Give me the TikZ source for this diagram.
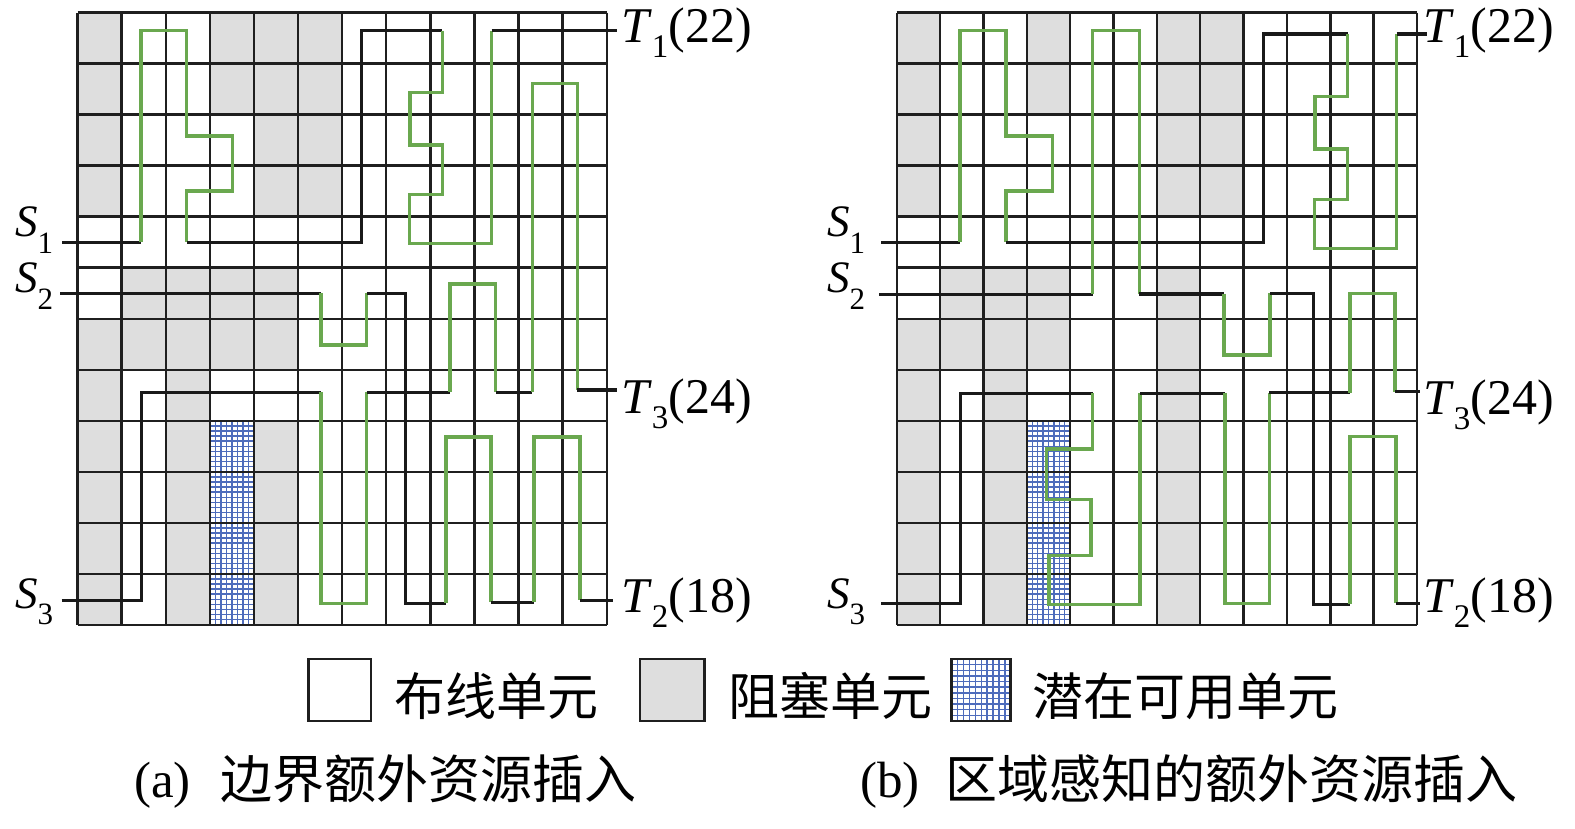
\documentclass[tikz,border=0pt]{standalone}
\usepackage{fontspec}
\setmainfont{Liberation Serif}
\newfontfamily\cjk{Noto Sans CJK SC}
\definecolor{wiregreen}{RGB}{106,168,79}
\definecolor{blockgray}{RGB}{222,222,222}
\definecolor{hatchblue}{RGB}{78,108,188}
\newcommand\mypinS[1]{\textit{S}\raisebox{-0.36em}{\fontsize{31}{31}\selectfont #1}}
\newcommand\mypinT[2]{\textit{T}\raisebox{-0.3em}{\fontsize{33}{33}\selectfont #1}(#2)}
\tikzset{
  gridline/.style={line width=2.4pt, black!88},
  bwire/.style={line width=3.3pt, black!90, line join=miter},
  gwire/.style={line width=3.1pt, wiregreen, line join=miter},
  hatch/.style={line width=1.4pt, hatchblue},
  legbox/.style={line width=2.6pt, black!88},
  slabel/.style={inner sep=0pt, anchor=base west, font=\fontsize{45}{47}\selectfont},
  tlabel/.style={inner sep=0pt, anchor=base west, font=\fontsize{50}{52}\selectfont},
  cjkleg/.style={inner sep=0pt, anchor=base west, font=\cjk\fontsize{51}{58}\selectfont},
  cjkcap/.style={inner sep=0pt, anchor=base west, font=\cjk\fontsize{52}{58}\selectfont},
  captext/.style={inner sep=0pt, anchor=base west, font=\fontsize{51}{56}\selectfont},
}
\begin{document}
\begin{tikzpicture}[x=1pt,y=-1pt]
\useasboundingbox (0,0) rectangle (1575,829);
\fill[white] (0,0) rectangle (1575,829);

% ================= left grid (a) =================
\begin{scope}[shift={(77.5,12.7)},x=44.1pt,y=-51pt]
  \foreach \c/\r in {0/0,3/0,4/0,5/0, 0/1,3/1,4/1,5/1, 0/2,4/2,5/2, 0/3,4/3,5/3,
      1/5,2/5,3/5,4/5, 0/6,1/6,2/6,3/6,4/6, 0/7,2/7,
      0/8,2/8,4/8, 0/9,2/9,4/9, 0/10,2/10,4/10, 0/11,2/11,4/11}
    \fill[blockgray] (\c,\r) rectangle ++(1,1);
  \fill[white] (3,8) rectangle (4,12);
  \foreach \k in {0,...,8} \draw[hatch] ({3+\k/8},8) -- ({3+\k/8},12);
  \foreach \k in {0,...,40} \draw[hatch] (3,{8+\k/10}) -- (4,{8+\k/10});
  \foreach \k in {0,...,12} {
    \draw[gridline] (\k,0) -- (\k,12);
    \draw[gridline] (0,\k) -- (12,\k);
  }
\end{scope}

% pins (a)
\coordinate (aS1) at (62,242.3);   \coordinate (aT1) at (616.7,30.7);
\coordinate (aS2) at (60,293.3);   \coordinate (aT2) at (612.7,600.3);
\coordinate (aS3) at (61.7,600.3); \coordinate (aT3) at (616.7,390);

% net 1 (a)
\draw[bwire] (aS1) -- (141,242.3);
\draw[gwire] (141,242.3) -- (141,30.7) -- (186.7,30.7) -- (186.7,136) -- (232.3,136)
  -- (232.3,191) -- (186.7,191) -- (186.7,242.3);
\draw[bwire] (186.7,242.3) -- (361.7,242.3) -- (361.7,30.7) -- (442.3,30.7);
\draw[gwire] (442.3,30.7) -- (442.3,92.7) -- (410,92.7) -- (410,145) -- (442.3,145)
  -- (442.3,194.3) -- (409.5,194.3) -- (409.5,243.3) -- (491.7,243.3) -- (491.7,30.7);
\draw[bwire] (491.7,30.7) -- (aT1);

% net 2 (a)
\draw[bwire] (aS2) -- (321,293.3);
\draw[gwire] (321,293.3) -- (321,345) -- (366.7,345) -- (366.7,293.3);
\draw[bwire] (366.7,293.3) -- (405.7,293.3) -- (405.7,603.3) -- (446,603.3);
\draw[gwire] (446,603.3) -- (446,437) -- (491,437) -- (491,602.3);
\draw[bwire] (491,602.3) -- (534,602.3);
\draw[gwire] (534,602.3) -- (534,437) -- (580,437) -- (580,600.3);
\draw[bwire] (580,600.3) -- (aT2);

% net 3 (a)
\draw[bwire] (aS3) -- (141.7,600.3) -- (141.7,392.3) -- (321,392.3);
\draw[gwire] (321,392.3) -- (321,603.3) -- (366.7,603.3) -- (366.7,392.3);
\draw[bwire] (366.7,392.3) -- (450,392.3);
\draw[gwire] (450,392.3) -- (450,284) -- (495.7,284) -- (495.7,392.3);
\draw[bwire] (495.7,392.3) -- (532.3,392.3);
\draw[gwire] (532.3,392.3) -- (532.3,83.3) -- (577.3,83.3) -- (577.3,390);
\draw[bwire] (577.3,390) -- (aT3);

% ================= right grid (b) =================
\begin{scope}[shift={(896.7,12.7)},x=43.36pt,y=-51pt]
  \foreach \c/\r in {0/0,3/0,6/0,7/0, 0/1,3/1,6/1,7/1, 0/2,6/2,7/2, 0/3,6/3,7/3,
      1/5,2/5,3/5,6/5, 0/6,1/6,2/6,3/6,6/6, 0/7,2/7,6/7,
      0/8,2/8,6/8, 0/9,2/9,6/9, 0/10,2/10,6/10, 0/11,2/11,6/11}
    \fill[blockgray] (\c,\r) rectangle ++(1,1);
  \fill[white] (3,8) rectangle (4,12);
  \foreach \k in {0,...,8} \draw[hatch] ({3+\k/8},8) -- ({3+\k/8},12);
  \foreach \k in {0,...,40} \draw[hatch] (3,{8+\k/10}) -- (4,{8+\k/10});
  \foreach \k in {0,...,12} {
    \draw[gridline] (\k,0) -- (\k,12);
    \draw[gridline] (0,\k) -- (12,\k);
  }
\end{scope}

% pins (b)
\coordinate (bS1) at (881,242.3);   \coordinate (bT1) at (1426.7,34);
\coordinate (bS2) at (879.3,294.3); \coordinate (bT2) at (1420,603.3);
\coordinate (bS3) at (881,603.3);   \coordinate (bT3) at (1420,391.7);

% net 1 (b)
\draw[bwire] (bS1) -- (960,242.3);
\draw[gwire] (960,242.3) -- (960,30.7) -- (1006,30.7) -- (1006,136) -- (1052.3,136)
  -- (1052.3,191) -- (1006,191) -- (1006,242.3);
\draw[bwire] (1006,242.3) -- (1263.3,242.3) -- (1263.3,34) -- (1347.5,34);
\draw[gwire] (1347.5,34) -- (1347.5,96.7) -- (1315,96.7) -- (1315,149) -- (1347.5,149)
  -- (1347.5,199.3) -- (1314.5,199.3) -- (1314.5,248.3) -- (1396.7,248.3) -- (1396.7,34);
\draw[bwire] (1396.7,34) -- (bT1);

% net 2 (b)
\draw[bwire] (bS2) -- (1092.7,294.3);
\draw[gwire] (1092.7,294.3) -- (1092.7,30.7) -- (1139.3,30.7) -- (1139.3,294);
\draw[bwire] (1139.3,294) -- (1224,294);
\draw[gwire] (1224,294) -- (1224,355) -- (1270,355) -- (1270,293.3);
\draw[bwire] (1270,293.3) -- (1313.3,293.3) -- (1313.3,604.3) -- (1350,604.3);
\draw[gwire] (1350,604.3) -- (1350,436.7) -- (1396,436.7) -- (1396,603.3);
\draw[bwire] (1396,603.3) -- (bT2);

% net 3 (b)
\draw[bwire] (bS3) -- (960.7,603.3) -- (960.7,393.3) -- (1092.7,393.3);
\draw[gwire] (1092.7,393.3) -- (1092.7,449) -- (1046.7,449) -- (1046.7,499.3) -- (1091,499.3)
  -- (1091,555.7) -- (1049,555.7) -- (1049,604.3) -- (1140,604.3) -- (1140,393.3);
\draw[bwire] (1140,393.3) -- (1225,393.3);
\draw[gwire] (1225,393.3) -- (1225,603.3) -- (1269.3,603.3) -- (1269.3,392.7);
\draw[bwire] (1269.3,392.7) -- (1350,392.7);
\draw[gwire] (1350,392.7) -- (1350,293.3) -- (1395,293.3) -- (1395,391.7);
\draw[bwire] (1395,391.7) -- (bT3);

% ================= pin labels =================
\node[slabel] (laS1) at (15,237) {\mypinS{1}};
\node[slabel] (laS2) at (15,293) {\mypinS{2}};
\node[slabel] (laS3) at (15,608) {\mypinS{3}};
\node[tlabel] (laT1) at (621,43) {\mypinT{1}{22}};
\node[tlabel] (laT3) at (621,413) {\mypinT{3}{24}};
\node[tlabel] (laT2) at (621,612) {\mypinT{2}{18}};

\node[slabel] (lbS1) at (827,237) {\mypinS{1}};
\node[slabel] (lbS2) at (827,293) {\mypinS{2}};
\node[slabel] (lbS3) at (827,608) {\mypinS{3}};
\node[tlabel] (lbT1) at (1423,43) {\mypinT{1}{22}};
\node[tlabel] (lbT3) at (1423,414) {\mypinT{3}{24}};
\node[tlabel] (lbT2) at (1423,612) {\mypinT{2}{18}};

% ================= legend =================
\draw[legbox, fill=white] (308.3,659) rectangle (371,721);
\node[cjkleg] (legRoute) at (394,715) {布线单元};
\draw[legbox, fill=blockgray] (640,659) rectangle (704.3,721);
\node[cjkleg] (legBlock) at (728,715) {阻塞单元};
\fill[white] (951.7,659) rectangle (1010.7,721);
\foreach \k in {0,...,10} \draw[hatch] ({951.7+\k*5.9},659) -- ({951.7+\k*5.9},721);
\foreach \k in {0,...,11} \draw[hatch] (951.7,{659+\k*62/11}) -- (1010.7,{659+\k*62/11});
\draw[legbox] (951.7,659) rectangle (1010.7,721);
\node[cjkleg] (legAvail) at (1032,715) {潜在可用单元};

% ================= captions =================
\node[captext] (capAl) at (134,797) {(a)};
\node[cjkcap] (capAt) at (220,798) {边界额外资源插入};
\node[captext] (capBl) at (860,797) {(b)};
\node[cjkcap] (capBt) at (945,798) {区域感知的额外资源插入};
\end{tikzpicture}
\end{document}
